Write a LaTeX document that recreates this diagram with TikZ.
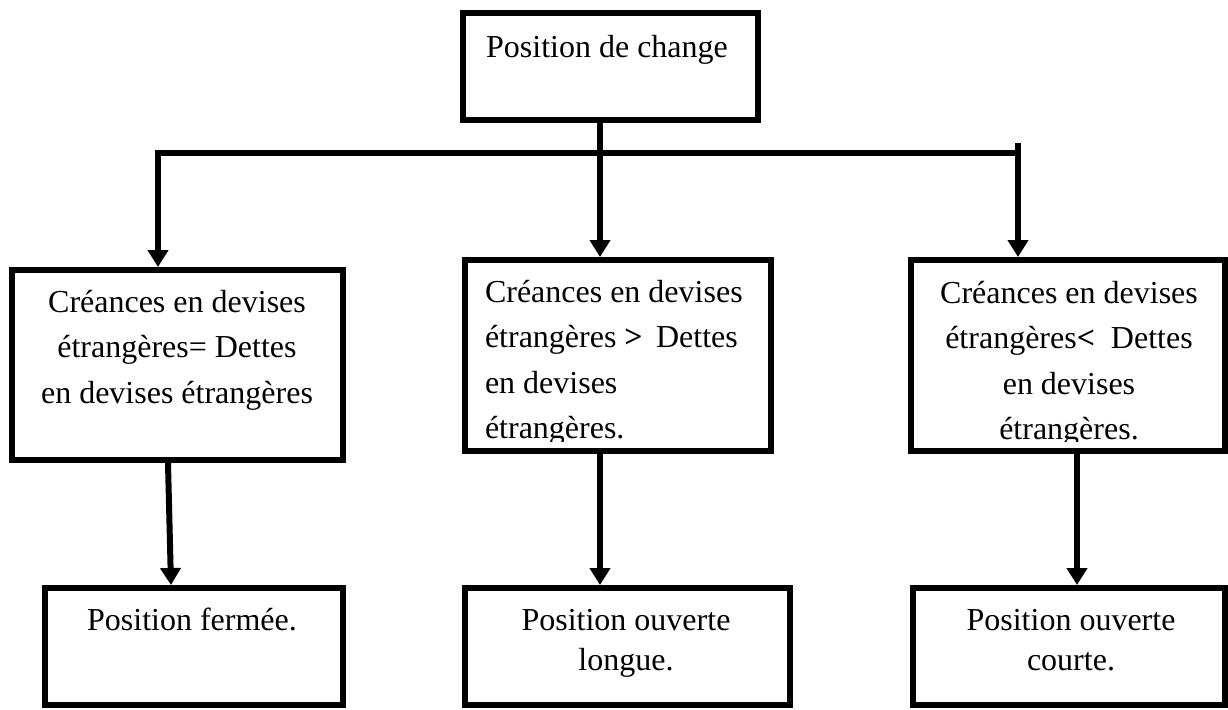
\documentclass[tikz,border=0pt]{standalone}
\usepackage{fontspec}
\setmainfont{Liberation Serif}
\usetikzlibrary{arrows.meta}
\begin{document}
\begin{tikzpicture}[x=1pt,y=-1pt,
  box/.style={draw,line width=6pt,inner sep=0pt,outer sep=3pt},
  txt/.style={inner sep=0pt,outer sep=0pt,font=\fontsize{32}{45.5}\selectfont},
  txtb/.style={inner sep=0pt,outer sep=0pt,font=\fontsize{32}{40}\selectfont},
  conn/.style={line width=6pt,miter limit=10},
  arr/.style={conn,-{Triangle[width=20pt,length=17pt]}}]
% page area
\fill[white] (0,0) rectangle (1228,709);
\useasboundingbox (0,0) rectangle (1228,709);

% frames
\node[box,minimum width=295pt,minimum height=107pt] (T)  at (610.5,66.5) {};
\node[box,minimum width=331pt,minimum height=190pt] (L)  at (177.5,365) {};
\node[box,minimum width=306pt,minimum height=191pt] (M)  at (618,355.5) {};
\node[box,minimum width=314pt,minimum height=191pt] (R)  at (1068,355.5) {};
\node[box,minimum width=298pt,minimum height=117pt] (LB) at (194,646.5) {};
\node[box,minimum width=325pt,minimum height=117pt] (MB) at (627.5,646.5) {};
\node[box,minimum width=312pt,minimum height=117pt] (RB) at (1069,646.5) {};

% labels
\node[txt,anchor=base] (tT) at (607,57) {Position de change};
\node[txt,anchor=base] (tL) at (177,312)
  {\begin{tabular}[t]{@{}c@{}}Créances en devises\\étrangères= Dettes\\en devises étrangères\end{tabular}};
\begin{scope}
  \clip (468,263) rectangle (768,441);
  \node[txt,anchor=base west] (tM) at (485,302)
    {\begin{tabular}[t]{@{}l@{}}Créances en devises\\étrangères \textbf{>}\, Dettes\\en devises\\étrangères.\end{tabular}};
\end{scope}
\begin{scope}
  \clip (914,263) rectangle (1222,441);
  \node[txt,anchor=base] (tR) at (1069,303)
    {\begin{tabular}[t]{@{}c@{}}Créances en devises\\étrangères\textbf{<}\ \ Dettes\\en devises\\étrangères.\end{tabular}};
\end{scope}
\node[txtb,anchor=base] (tLB) at (192,630) {Position fermée.};
\node[txtb,anchor=base] (tMB) at (626,630)
  {\begin{tabular}[t]{@{}c@{}}Position ouverte\\longue.\end{tabular}};
\node[txtb,anchor=base] (tRB) at (1071,630)
  {\begin{tabular}[t]{@{}c@{}}Position ouverte\\courte.\end{tabular}};

% connector positions
\coordinate (xm) at (600,0);
\coordinate (hl) at (158,153);
\coordinate (hr) at (1018,153);
\coordinate (rt) at (1018,143);
\coordinate (xl1) at (168,0);
\coordinate (xl2) at (171,0);
\coordinate (xr) at (1077,0);

% connectors
\draw[arr] (T.south -| xm) -- (M.north -| xm);
\draw[arr] (hr) -- (hl) -- (L.north -| hl);
\draw[arr] (rt) -- (R.north -| rt);
\draw[arr] (L.south -| xl1) -- (LB.north -| xl2);
\draw[arr] (M.south -| xm) -- (MB.north -| xm);
\draw[arr] (R.south -| xr) -- (RB.north -| xr);
\end{tikzpicture}
\end{document}
